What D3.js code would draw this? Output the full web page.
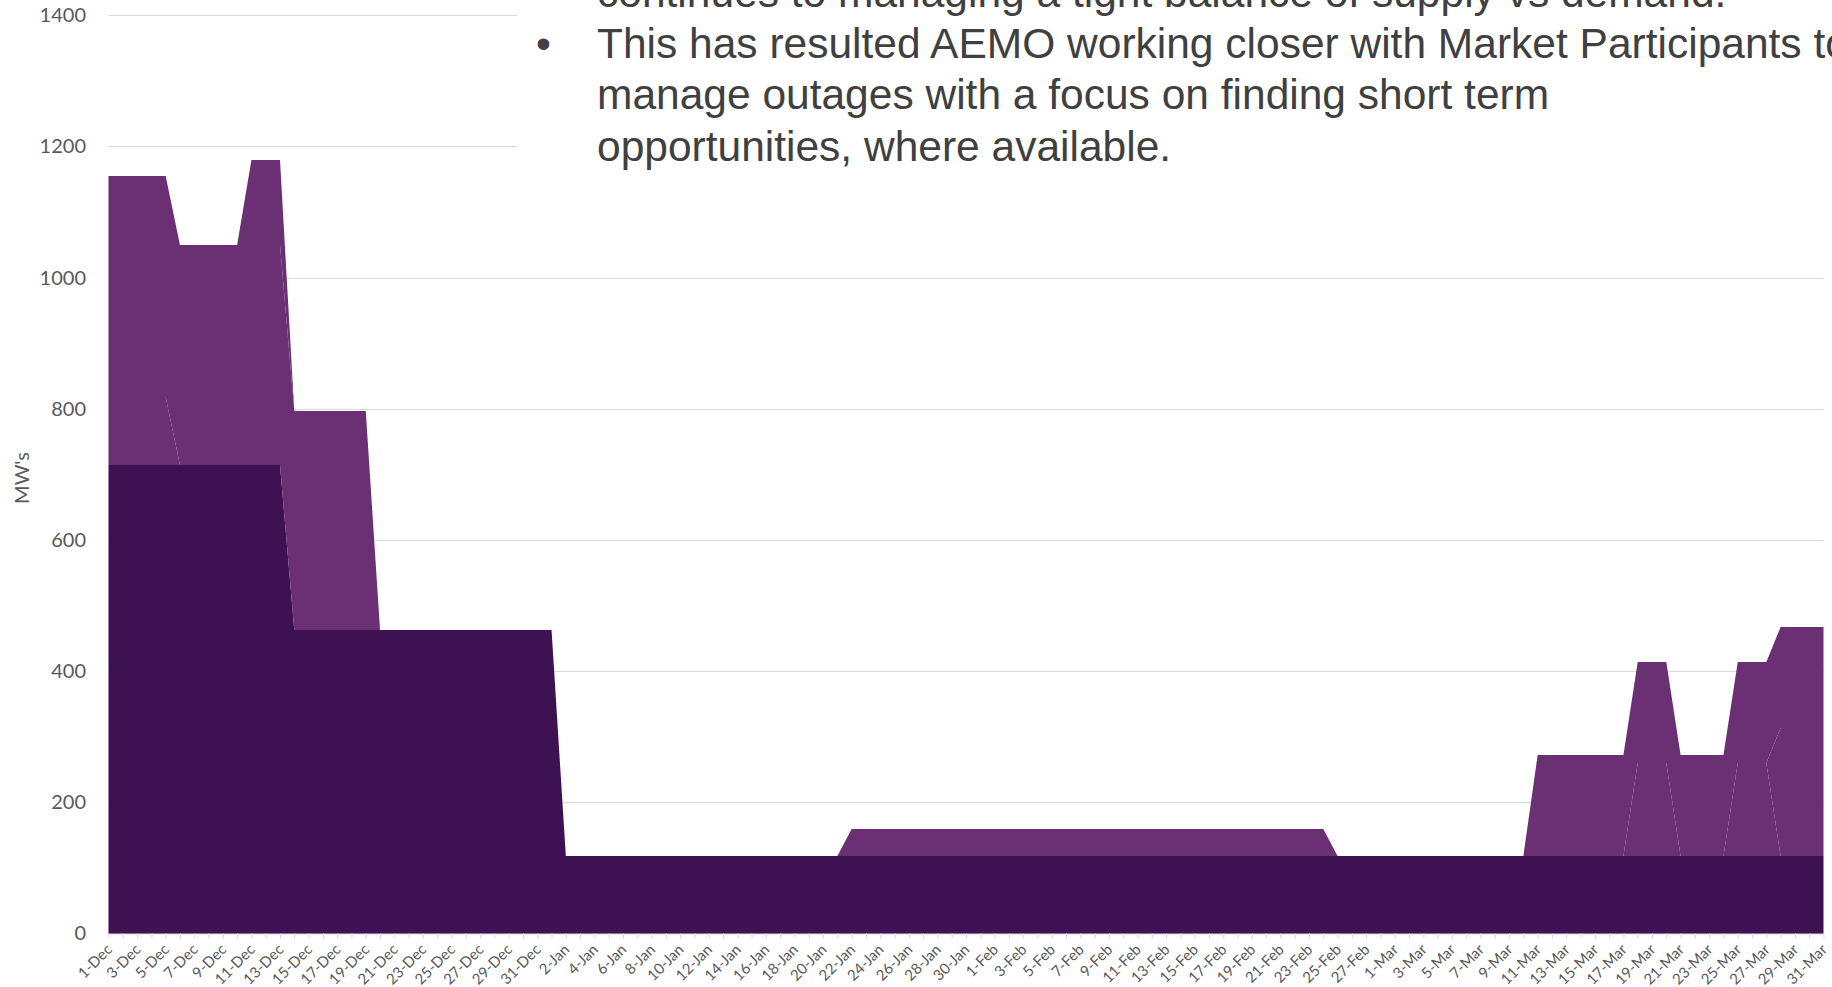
<!DOCTYPE html>
<html>
<head>
<meta charset="utf-8">
<script src="https://cdn.jsdelivr.net/npm/d3@7"></script>
<style>
  body { margin: 0; background: #fff; overflow: hidden; }
  svg { display: block; }
  .axis text { font-family: Lato, "Open Sans", sans-serif; fill: #595959; }
  .note { font-family: "Liberation Sans", Arial, sans-serif; fill: #404040; }
</style>
</head>
<body>
<div id="chart"></div>
<script>
// Category axis: one point per day, 1-Dec to 31-Mar
let days = d3.timeDay.range(new Date(2017, 11, 1), new Date(2018, 3, 1));
let dayLabels = days.map(d3.timeFormat("%-d-%b"));

let yTicks = [0, 200, 400, 600, 800, 1000, 1200, 1400];

// Outages (MW) per day, one line per month: Dec, Jan, Feb, Mar
let outageBase = [
  715, 715, 715, 715, 715, 715, 715, 715, 715, 715, 715, 715, 715, 462, 462, 462, 462, 462, 462, 462, 462, 462, 462, 462, 462, 462, 462, 462, 462, 462, 462,
  462, 118, 118, 118, 118, 118, 118, 118, 118, 118, 118, 118, 118, 118, 118, 118, 118, 118, 118, 118, 118, 118, 118, 118, 118, 118, 118, 118, 118, 118, 118,
  118, 118, 118, 118, 118, 118, 118, 118, 118, 118, 118, 118, 118, 118, 118, 118, 118, 118, 118, 118, 118, 118, 118, 118, 118, 118, 118, 118,
  118, 118, 118, 118, 118, 118, 118, 118, 118, 118, 118, 118, 118, 118, 118, 118, 118, 118, 118, 118, 118, 118, 118, 118, 118, 118, 118, 118, 118, 118, 118
];
let outageA = [
  103, 103, 103, 103, 103, 0, 0, 0, 0, 0, 0, 0, 0, 0, 0, 0, 0, 0, 0, 0, 0, 0, 0, 0, 0, 0, 0, 0, 0, 0, 0,
  0, 0, 0, 0, 0, 0, 0, 0, 0, 0, 0, 0, 0, 0, 0, 0, 0, 0, 0, 0, 0, 0, 0, 0, 0, 0, 0, 0, 0, 0, 0,
  0, 0, 0, 0, 0, 0, 0, 0, 0, 0, 0, 0, 0, 0, 0, 0, 0, 0, 0, 0, 0, 0, 0, 0, 0, 0, 0, 0,
  0, 0, 0, 0, 0, 0, 0, 0, 0, 0, 0, 0, 0, 0, 0, 0, 0, 0, 0, 0, 0, 0, 0, 0, 0, 0, 0, 0, 0, 0, 0
];
let outageB = [
  337, 337, 337, 337, 337, 335, 335, 335, 335, 335, 335, 335, 335, 335, 335, 335, 335, 335, 335, 0, 0, 0, 0, 0, 0, 0, 0, 0, 0, 0, 0,
  0, 0, 0, 0, 0, 0, 0, 0, 0, 0, 0, 0, 0, 0, 0, 0, 0, 0, 0, 0, 0, 0, 0, 0, 0, 0, 0, 0, 0, 0, 0,
  0, 0, 0, 0, 0, 0, 0, 0, 0, 0, 0, 0, 0, 0, 0, 0, 0, 0, 0, 0, 0, 0, 0, 0, 0, 0, 0, 0,
  0, 0, 0, 0, 0, 0, 0, 0, 0, 0, 0, 0, 0, 0, 0, 0, 0, 0, 0, 0, 0, 0, 0, 0, 0, 0, 0, 0, 0, 0, 0
];
let outageC = [
  0, 0, 0, 0, 0, 0, 0, 0, 0, 0, 130, 130, 130, 0, 0, 0, 0, 0, 0, 0, 0, 0, 0, 0, 0, 0, 0, 0, 0, 0, 0,
  0, 0, 0, 0, 0, 0, 0, 0, 0, 0, 0, 0, 0, 0, 0, 0, 0, 0, 0, 0, 0, 0, 0, 0, 0, 0, 0, 0, 0, 0, 0,
  0, 0, 0, 0, 0, 0, 0, 0, 0, 0, 0, 0, 0, 0, 0, 0, 0, 0, 0, 0, 0, 0, 0, 0, 0, 0, 0, 0,
  0, 0, 0, 0, 0, 0, 0, 0, 0, 0, 0, 0, 0, 0, 0, 0, 0, 0, 0, 0, 0, 0, 0, 0, 0, 0, 0, 0, 0, 0, 0
];
let outageD = [
  0, 0, 0, 0, 0, 0, 0, 0, 0, 0, 0, 0, 0, 0, 0, 0, 0, 0, 0, 0, 0, 0, 0, 0, 0, 0, 0, 0, 0, 0, 0,
  0, 0, 0, 0, 0, 0, 0, 0, 0, 0, 0, 0, 0, 0, 0, 0, 0, 0, 0, 0, 0, 42, 42, 42, 42, 42, 42, 42, 42, 42, 42,
  42, 42, 42, 42, 42, 42, 42, 42, 42, 42, 42, 42, 42, 42, 42, 42, 42, 42, 42, 42, 42, 42, 42, 42, 0, 0, 0, 0,
  0, 0, 0, 0, 0, 0, 0, 0, 0, 0, 0, 0, 0, 0, 0, 0, 0, 0, 0, 0, 0, 0, 0, 0, 0, 0, 0, 0, 0, 0, 0
];
let outageE = [
  0, 0, 0, 0, 0, 0, 0, 0, 0, 0, 0, 0, 0, 0, 0, 0, 0, 0, 0, 0, 0, 0, 0, 0, 0, 0, 0, 0, 0, 0, 0,
  0, 0, 0, 0, 0, 0, 0, 0, 0, 0, 0, 0, 0, 0, 0, 0, 0, 0, 0, 0, 0, 0, 0, 0, 0, 0, 0, 0, 0, 0, 0,
  0, 0, 0, 0, 0, 0, 0, 0, 0, 0, 0, 0, 0, 0, 0, 0, 0, 0, 0, 0, 0, 0, 0, 0, 0, 0, 0, 0,
  0, 0, 0, 0, 0, 0, 0, 0, 0, 0, 0, 0, 0, 0, 0, 0, 0, 142, 142, 142, 0, 0, 0, 0, 142, 142, 142, 0, 0, 0, 0
];
let outageF = [
  0, 0, 0, 0, 0, 0, 0, 0, 0, 0, 0, 0, 0, 0, 0, 0, 0, 0, 0, 0, 0, 0, 0, 0, 0, 0, 0, 0, 0, 0, 0,
  0, 0, 0, 0, 0, 0, 0, 0, 0, 0, 0, 0, 0, 0, 0, 0, 0, 0, 0, 0, 0, 0, 0, 0, 0, 0, 0, 0, 0, 0, 0,
  0, 0, 0, 0, 0, 0, 0, 0, 0, 0, 0, 0, 0, 0, 0, 0, 0, 0, 0, 0, 0, 0, 0, 0, 0, 0, 0, 0,
  0, 0, 0, 0, 0, 0, 0, 0, 0, 0, 0, 0, 0, 0, 0, 0, 0, 0, 0, 0, 0, 0, 0, 0, 0, 0, 0, 195, 195, 195, 195
];
let outageG = [
  0, 0, 0, 0, 0, 0, 0, 0, 0, 0, 0, 0, 0, 0, 0, 0, 0, 0, 0, 0, 0, 0, 0, 0, 0, 0, 0, 0, 0, 0, 0,
  0, 0, 0, 0, 0, 0, 0, 0, 0, 0, 0, 0, 0, 0, 0, 0, 0, 0, 0, 0, 0, 0, 0, 0, 0, 0, 0, 0, 0, 0, 0,
  0, 0, 0, 0, 0, 0, 0, 0, 0, 0, 0, 0, 0, 0, 0, 0, 0, 0, 0, 0, 0, 0, 0, 0, 0, 0, 0, 0,
  0, 0, 0, 0, 0, 0, 0, 0, 0, 0, 154, 154, 154, 154, 154, 154, 154, 154, 154, 154, 154, 154, 154, 154, 154, 154, 154, 154, 154, 154, 154
];

// Slide text overlapping the top of the chart
let noteLines = [
  "continues to managing a tight balance of supply vs demand.",
  "This has resulted AEMO working closer with Market Participants to",
  "manage outages with a focus on finding short term",
  "opportunities, where available."
];

let width = 1832;
let height = 987;
let plot = { left: 108.5, right: 1823.5, top: 15.3, bottom: 933.5 };

let svg = d3.select("#chart")
            .append("svg")
            .attr("width", width)
            .attr("height", height);

// Scales
let xScale = d3.scalePoint()
               .domain(dayLabels)
               .range([plot.left, plot.right]);

let yScale = d3.scaleLinear()
               .domain([0, 1400])
               .range([plot.bottom, plot.top]);

// Stacked table
let keys = ["base", "a", "b", "c", "d", "e", "f", "g"];
let series = [outageBase, outageA, outageB, outageC, outageD, outageE, outageF, outageG];
let table = dayLabels.map((day, i) => {
  let row = { day: day };
  keys.forEach((k, j) => row[k] = series[j][i]);
  return row;
});
let stacked = d3.stack().keys(keys)(table);

let fillColor = k => k === "base" ? "#3d1152" : "#6b2f74";

// Gridlines
svg.append("g")
   .attr("class", "grid")
   .selectAll("line")
   .data(yTicks.filter(t => t > 0))
   .enter()
   .append("line")
   .attr("x1", plot.left)
   .attr("x2", plot.right)
   .attr("y1", d => Math.round(yScale(d)) + 0.5)
   .attr("y2", d => Math.round(yScale(d)) + 0.5)
   .style("stroke", "#d9d9d9")
   .style("stroke-width", 1);

// Areas (y snapped to whole pixels so flat joins between series don't show)
let area = d3.area()
             .x(d => xScale(d.data.day))
             .y0(d => Math.round(yScale(d[0])))
             .y1(d => Math.round(yScale(d[1])));

svg.append("g")
   .attr("class", "areas")
   .selectAll("path")
   .data(stacked)
   .enter()
   .append("path")
   .attr("d", area)
   .style("fill", d => fillColor(d.key))
   .style("stroke", "none");

// X axis, one tick per day, label every second day
let xAxis = svg.append("g")
               .attr("class", "x axis")
               .attr("transform", `translate(0, ${plot.bottom})`)
               .call(d3.axisBottom(xScale)
                       .tickSize(5)
                       .tickSizeOuter(0)
                       .tickFormat((d, i) => i % 2 === 0 ? d : ""));

xAxis.select(".domain").style("stroke", "#d9d9d9");
xAxis.selectAll(".tick line").style("stroke", "#d9d9d9");
xAxis.selectAll(".tick text")
     .style("font-size", "15px")
     .attr("text-anchor", "end")
     .attr("y", 0)
     .attr("dy", 0)
     .attr("transform", "translate(4, 17) rotate(-45)");

// Y axis labels only
let yAxis = svg.append("g")
               .attr("class", "y axis")
               .attr("transform", "translate(86, 0)")
               .call(d3.axisLeft(yScale)
                       .tickValues(yTicks)
                       .tickFormat(d3.format("d"))
                       .tickSize(0)
                       .tickPadding(0));

yAxis.select(".domain").remove();
yAxis.selectAll(".tick text").style("font-size", "20px");

svg.append("text")
   .attr("class", "y label axis")
   .attr("text-anchor", "middle")
   .attr("transform", "translate(29, 478) rotate(-90)")
   .style("font-family", "Lato, 'Open Sans', sans-serif")
   .style("font-size", "20px")
   .style("fill", "#595959")
   .text("MW's");

// Text box from the slide
svg.append("rect")
   .attr("x", 517)
   .attr("y", 0)
   .attr("width", width - 517)
   .attr("height", 190)
   .style("fill", "#fff");

svg.selectAll(".note")
   .data(noteLines)
   .enter()
   .append("text")
   .attr("class", "note")
   .attr("x", 597)
   .attr("y", (d, i) => 7 + i * 51.2)
   .style("font-size", "42.5px")
   .text(d => d);

svg.append("text")
   .attr("class", "note")
   .attr("x", 536)
   .attr("y", 7 + 51.2)
   .style("font-size", "42.5px")
   .text("•");
</script>
</body>
</html>
